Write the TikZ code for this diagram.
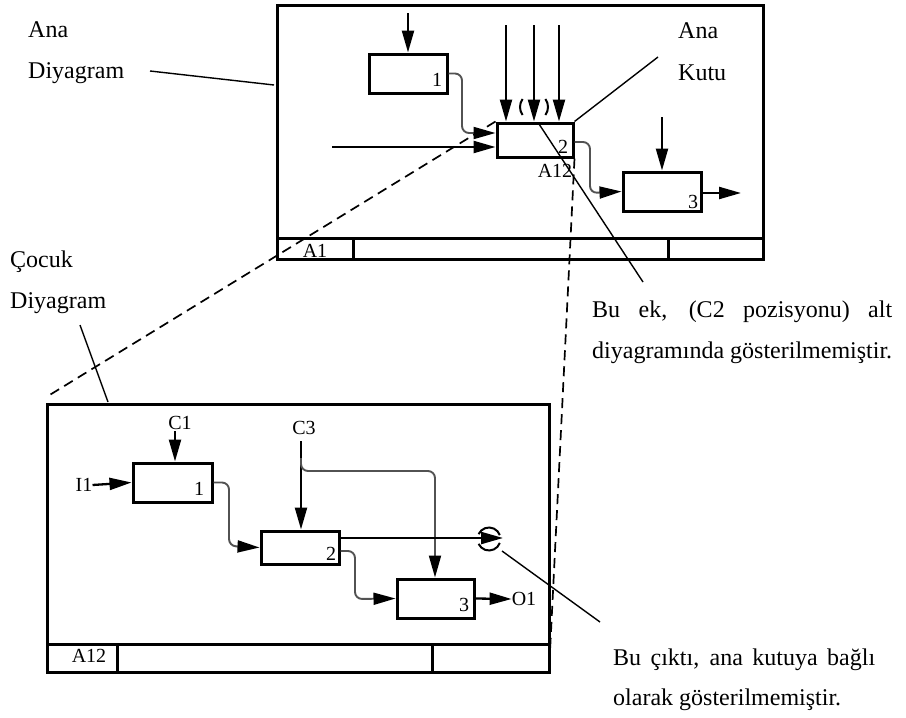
\documentclass[tikz,border=0pt]{standalone}
\usepackage{fontspec}
\setmainfont{Liberation Serif}
\usetikzlibrary{arrows.meta}

\begin{document}
\begin{tikzpicture}[x=1pt,y=-1pt,
  frame/.style={draw, line width=3pt, inner sep=0pt, outer sep=0pt},
  bar/.style={line width=3pt},
  actbox/.style={draw, line width=3pt, inner sep=0pt},
  num/.style={inner sep=0pt, font=\fontsize{20}{22}\selectfont},
  lbl/.style={inner sep=0pt, anchor=base west, font=\fontsize{24}{28}\selectfont},
  tip/.style={-{Triangle[length=22pt,width=12pt,color=black]}},
  arr/.style={line width=2.3pt, tip},
  conn/.style={line width=1.9pt, draw=black!68, rounded corners=7pt, tip},
  paren/.style={line width=2pt},
  leader/.style={line width=1.4pt},
  linkline/.style={line width=1.7pt, dash pattern=on 10pt off 6pt},
]
\useasboundingbox (0,0) rectangle (906,718);

% ---------- parent diagram A1 ----------
\node[frame, minimum width=486pt, minimum height=254pt] (topf) at (520,132) {};
\draw[bar] (277,238) -- (763,238);
\draw[bar] (353,238) -- (353,259);
\draw[bar] (668,238) -- (668,259);
\node[num] (tA1) at (315,251) {A1};

\node[actbox, minimum width=78pt, minimum height=39pt] (t1) at (408,73.5) {};
\node[actbox, minimum width=76pt, minimum height=34pt] (t2) at (535,140) {};
\node[actbox, minimum width=78pt, minimum height=39pt] (t3) at (662,191.5) {};
\node[num] (t1n) at (437,80) {1};
\node[num] (t2n) at (563,147) {2};
\node[num] (t3n) at (693,202) {3};
\node[num] (t2ref) at (555,171) {A12};

% controls, input and outputs
\coordinate (t1c) at (408,13);
\draw[arr] (t1c) -- (t1.north);
\coordinate (t2ca) at (506,25);
\coordinate (t2cb) at (534,25);
\coordinate (t2cc) at (559,25);
\draw[arr] (t2ca) -- (t2ca |- t2.north);
\draw[arr] (t2cb) -- (t2cb |- t2.north);
\draw[arr] (t2cc) -- (t2cc |- t2.north);
% tunnel brackets round the middle control
\coordinate (pc) at (534,107);
\draw[paren] (pc) ++(145:14) arc[start angle=145, end angle=215, radius=14];
\draw[paren] (pc) ++(-35:14) arc[start angle=-35, end angle=35, radius=14];
\coordinate (t2in) at (332,147);
\draw[arr] (t2in) -- (t2in -| t2.west);
\draw[conn] (t1.east) -| (462,133) -- ([yshift=7pt]t2.west);
\draw[conn] ([yshift=-2pt]t2.east) -| (590,193) -- (t3.west);
\coordinate (t3c) at (662,117);
\draw[arr] (t3c) -- (t3.north);
\coordinate (t3out) at (741,193);
\draw[arr] (t3.east |- t3out) -- (t3out);

% ---------- child diagram A12 ----------
\node[frame, minimum width=502pt, minimum height=268pt] (chf) at (298,538) {};
\draw[bar] (47,644) -- (549,644);
\draw[bar] (117,644) -- (117,672);
\draw[bar] (432,644) -- (432,672);
\node[num] (cA12) at (89,656) {A12};

\node[actbox, minimum width=79pt, minimum height=39pt] (c1) at (172.5,482.5) {};
\node[actbox, minimum width=78pt, minimum height=33pt] (c2) at (300,547.5) {};
\node[actbox, minimum width=77pt, minimum height=39pt] (c3) at (435.5,598.5) {};
\node[num] (c1n) at (199,489) {1};
\node[num] (c2n) at (331,554) {2};
\node[num] (c3n) at (464,605) {3};

\node[num] (C1) at (180,423) {C1};
\node[num] (C3) at (304,428) {C3};
\node[num] (I1) at (84,485) {I1};
\node[num] (O1) at (524,599) {O1};

\coordinate (c1c) at (175,431);
\draw[arr] (c1c) -- (c1c |- c1.north);
\draw[arr] (I1.east) -- (c1.west);
\coordinate (c2c) at (301,441);
\draw[arr] (c2c) -- (c2c |- c2.north);
\coordinate (c3c) at (435,471);
\draw[conn] (301,458) |- (c3c) -- (c3c |- c3.north);
\draw[conn] (c1.east) -| (229,546) -- (c2.west);
\draw[conn] ([yshift=-3.5pt]c2.east) -| (355,599) -- (c3.west);
\draw[arr] (c3.east) -- (O1.west);

% tunnelled output
\coordinate (tun) at (489,539);
\coordinate (tuntip) at (503,538);
\draw[arr] ([yshift=9.5pt]c2.east) -- (tuntip);
\draw[paren] (tun) ++(205:11.5) arc[start angle=205, end angle=340, radius=11.5];
\draw[paren] (tun) ++(20:11.5) arc[start angle=20, end angle=155, radius=11.5];

% ---------- links between the two levels ----------
\coordinate (chtl) at (48,396);
\draw[linkline] (t2.north west) -- (chtl);
\draw[linkline] (t2.south east) -- (chf.south east);

% ---------- callouts ----------
\coordinate (anaA) at (150,71);
\coordinate (anaB) at (274,85);
\draw[leader] (anaA) -- (anaB);
\node[lbl] (anaD1) at (28,37) {Ana};
\node[lbl] (anaD2) at (28,78) {Diyagram};

\coordinate (kutuB) at (658,57);
\draw[leader] (t2.north east) -- (kutuB);
\node[lbl] (anaK1) at (678,38) {Ana};
\node[lbl] (anaK2) at (678,80) {Kutu};

\coordinate (cocA) at (80,325);
\coordinate (cocB) at (108,402);
\draw[leader] (cocA) -- (cocB);
\node[lbl] (coc1) at (10,267) {Çocuk};
\node[lbl] (coc2) at (10,308) {Diyagram};

\coordinate (ekA) at (539,124);
\coordinate (ekB) at (643,282);
\draw[leader] (ekA) -- (ekB);
\node[lbl] (ek1) at (592,317) {\makebox[300pt][s]{Bu ek, (C2 pozisyonu) alt}};
\node[lbl] (ek2) at (592,358) {diyagramında gösterilmemiştir.};

\coordinate (ciA) at (502,551);
\coordinate (ciB) at (600,622);
\draw[leader] (ciA) -- (ciB);
\node[lbl] (ci1) at (613,665) {\makebox[262pt][s]{Bu çıktı, ana kutuya bağlı}};
\node[lbl] (ci2) at (613,705) {olarak gösterilmemiştir.};
\end{tikzpicture}
\end{document}
